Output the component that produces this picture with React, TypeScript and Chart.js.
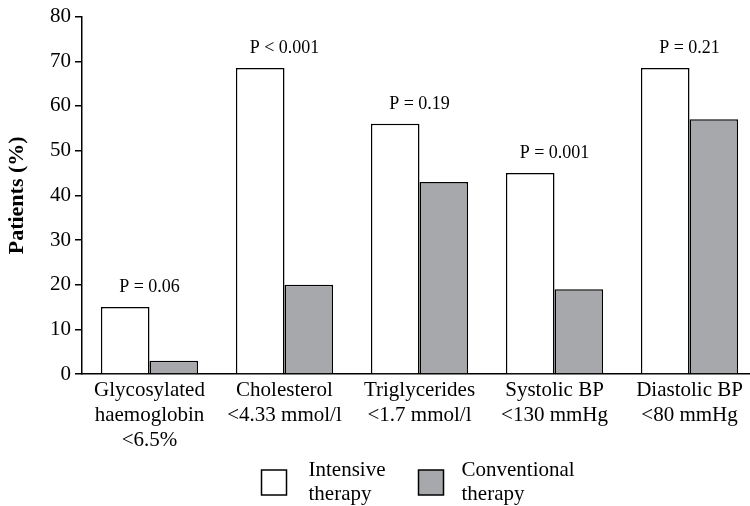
import React, { useEffect, useRef } from "react";
import { Chart, registerables } from "chart.js";

Chart.register(...registerables);

const categories: string[][] = [
  ["Glycosylated", "haemoglobin", "<6.5%"],
  ["Cholesterol", "<4.33 mmol/l"],
  ["Triglycerides", "<1.7 mmol/l"],
  ["Systolic BP", "<130 mmHg"],
  ["Diastolic BP", "<80 mmHg"],
];
const intensive = [15, 68.5, 56, 45, 68.5];
const conventional = [3, 20, 43, 19, 57];
const pValues = ["P = 0.06", "P < 0.001", "P = 0.19", "P = 0.001", "P = 0.21"];
const seriesNames = [["Intensive", "therapy"], ["Conventional", "therapy"]];
const yTicks = [0, 10, 20, 30, 40, 50, 60, 70, 80];

const FONT = "'Liberation Serif', 'Times New Roman', serif";
const GREY = "#a7a8ac";

export default function App() {
  const ref = useRef<HTMLCanvasElement | null>(null);

  useEffect(() => {
    document.body.style.margin = "0";
    const canvas = ref.current;
    if (!canvas) return;

    const annotate = {
      id: "annotate",
      afterDatasetsDraw(chart: any) {
        const ctx = chart.ctx;
        const xs = chart.scales.x;
        const ys = chart.scales.y;
        ctx.save();
        ctx.fillStyle = "#000";
        ctx.font = `18px ${FONT}`;
        ctx.textAlign = "center";
        ctx.textBaseline = "alphabetic";
        pValues.forEach((p, i) => {
          const x = xs.getPixelForValue(i);
          const y = ys.getPixelForValue(intensive[i]) - 15;
          ctx.fillText(p, x, y);
        });
        ctx.restore();
      },
      afterDraw(chart: any) {
        const ctx = chart.ctx;
        const xs = chart.scales.x;
        const mid = xs.getPixelForValue(2);
        const boxY = 470;
        const boxes = [
          { x: mid - 158, fill: "#ffffff", textX: mid - 111 },
          { x: mid - 1, fill: GREY, textX: mid + 42 },
        ];
        ctx.save();
        boxes.forEach((b, i) => {
          ctx.fillStyle = b.fill;
          ctx.fillRect(b.x, boxY, 25, 25);
          ctx.strokeStyle = "#000";
          ctx.lineWidth = 1.5;
          ctx.strokeRect(b.x, boxY, 25, 25);
          ctx.fillStyle = "#000";
          ctx.font = `21px ${FONT}`;
          ctx.textAlign = "left";
          ctx.textBaseline = "middle";
          seriesNames[i].forEach((line, j) => {
            ctx.fillText(line, b.textX, 470 + j * 24);
          });
        });
        ctx.restore();
      },
    };

    const chart = new Chart(canvas, {
      type: "bar",
      data: {
        datasets: [
          {
            label: seriesNames[0].join(" "),
            data: intensive.map((v, i) => ({ x: i, y: v })),
            backgroundColor: "#ffffff",
            borderColor: "#000000",
            borderWidth: 1.5,
          },
          {
            label: seriesNames[1].join(" "),
            data: conventional.map((v, i) => ({ x: i, y: v })),
            backgroundColor: GREY,
            borderColor: "#000000",
            borderWidth: 1.5,
          },
        ],
      },
      plugins: [annotate],
      options: {
        responsive: false,
        animation: false,
        layout: { padding: { top: 15, right: 0, bottom: 49, left: 0 } },
        datasets: {
          bar: { categoryPercentage: 0.72, barPercentage: 1.0 },
        },
        plugins: {
          legend: { display: false },
          tooltip: { enabled: false },
          title: { display: false },
        },
        scales: {
          x: {
            type: "linear",
            min: -0.5,
            max: 4.448,
            offset: false,
            grid: { display: false, drawTicks: false, tickLength: 0 },
            border: { display: true, color: "#000", width: 1.5 },
            ticks: {
              stepSize: 1,
              includeBounds: false,
              autoSkip: false,
              maxRotation: 0,
              color: "#000",
              padding: 4,
              font: { family: FONT, size: 21, lineHeight: 1.19 },
              callback: (v: any) => {
                const n = Number(v);
                return Number.isInteger(n) && categories[n] ? categories[n] : "";
              },
            },
          },
          y: {
            min: 0,
            max: 80,
            afterFit: (scale: any) => {
              scale.width = 82;
            },
            afterBuildTicks: (scale: any) => {
              scale.ticks = yTicks.map((v) => ({ value: v }));
            },
            grid: {
              display: true,
              drawOnChartArea: false,
              drawTicks: true,
              tickLength: 7,
              color: "#000",
              lineWidth: 1.5,
            },
            border: { display: true, color: "#000", width: 1.5 },
            ticks: {
              color: "#000",
              padding: 4,
              font: { family: FONT, size: 21 },
            },
            title: {
              display: true,
              text: "Patients (%)",
              color: "#000",
              padding: { top: 4, bottom: 0 },
              font: { family: FONT, size: 22, weight: "bold" },
            },
          },
        },
      },
    });

    return () => chart.destroy();
  }, []);

  return <canvas ref={ref} width={750} height={506} style={{ display: "block" }} />;
}
